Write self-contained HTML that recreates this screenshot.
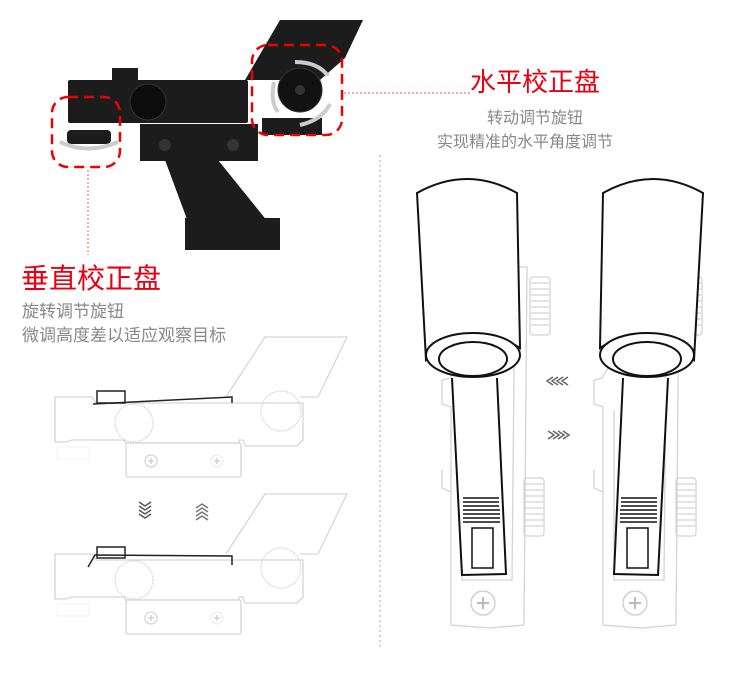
<!DOCTYPE html>
<html><head><meta charset="utf-8"><style>
body{margin:0;background:#fff;width:750px;height:678px;overflow:hidden;position:relative;font-family:"Liberation Sans","Noto Sans CJK SC",sans-serif}
.t{position:absolute;white-space:nowrap}
</style></head><body>
<svg width="750" height="678" style="position:absolute;left:0;top:0">
<defs>
<g id="sk" fill="none" stroke="#d6d6d6" stroke-width="1.3">
<path d="M55 397 L92 397 L96 403 L232 403 L303 403 L303 440 L297 446 L245 446 L243 440 L239 440 L239 443 L126 443 L124 440 L72 440 L66 442 L55 442 Z"/>
<rect x="126" y="443" width="115" height="34" rx="2"/>
<circle cx="134" cy="423" r="19" stroke-dasharray="1.5 1"/>
<circle cx="281" cy="411" r="20" stroke-dasharray="1.5 1"/>
<path d="M226 397 L265 337 L347 337 L318 397 L300 397"/>
<circle cx="151" cy="461" r="6"/><circle cx="217" cy="461" r="6" stroke="#eee"/>
<path d="M148 461h6M151 458v6M214 461h6M217 458v6" stroke="#ccc"/>
<rect x="57" y="447" width="32" height="12" stroke="#eee" stroke-dasharray="1 1"/>
</g>
<g id="br" fill="none" stroke="#d4d4d4" stroke-width="1.3">
<path d="M518 267 L527 267 L524 625 L490 628 L451 625 L451 407 L442 404 L442 380 L450 378 Z"/>
<path d="M462 410 L462 580 L512 580 L515 267"/>
<rect x="530" y="277" width="20" height="58" rx="3"/><path d="M531 283h18M531 289h18M531 295h18M531 301h18M531 307h18M531 313h18M531 319h18M531 325h18"/>
<rect x="524" y="478" width="20" height="58" rx="3"/><path d="M525 484h18M525 490h18M525 496h18M525 502h18M525 508h18M525 514h18M525 520h18M525 526h18"/>
<path d="M442 470 L442 488 L451 492"/>
<circle cx="483" cy="603" r="12" stroke="#ccc"/><path d="M477 603h12M483 597v12" stroke="#bbb" stroke-width="2"/>
</g>
<g id="fd">
<path d="M417 193 Q467 165 517 193 L520 348 Q473 318 426 360 Z" fill="#fff" stroke="#111" stroke-width="2"/>
<ellipse cx="473" cy="355" rx="47" ry="22" fill="#fff" stroke="#111" stroke-width="2"/>
<ellipse cx="473" cy="359" rx="34" ry="17" fill="#fff" stroke="#111" stroke-width="2"/>
<path d="M452 378 L462 575 L506 574 L497 378" fill="#fff" stroke="#111" stroke-width="2"/>
<g stroke="#111" stroke-width="1.6"><path d="M463 498h36M463 502h36M463 506h36M463 510h37M463 514h37M463 518h37M463 522h37"/></g>
<rect x="472" y="528" width="21" height="40" fill="none" stroke="#111" stroke-width="1.5"/>
</g>
</defs>
<g fill="#1c1c1c">
<polygon points="245,80 280,20 363,20 345,58 320,80"/>
<rect x="112" y="68" width="26" height="14"/>
<rect x="68" y="80" width="180" height="43" rx="2"/>
<rect x="140" y="124" width="118" height="37"/>
<polygon points="165,160 218,160 268,222 188,222"/>
<rect x="185" y="218" width="95" height="32"/>
<rect x="262" y="118" width="60" height="17"/>
<rect x="67" y="130" width="44" height="14" rx="4"/>
</g>
<circle cx="148" cy="102" r="18" fill="#0c0c0c" stroke="#333"/>
<circle cx="300" cy="90" r="22" fill="#111" stroke="#333"/>
<circle cx="300" cy="90" r="5" fill="#333"/>
<circle cx="165" cy="145" r="6" fill="#333"/><circle cx="233" cy="145" r="6" fill="#333"/>
<g fill="none" stroke="#ccc" stroke-width="4">
<path d="M60 142 Q88 155 118 142"/>
<path d="M295 62 Q318 62 328 76"/><path d="M274 82 Q270 102 278 112"/><path d="M300 125 Q322 120 330 104"/>
</g>
<g fill="none" stroke="#e00" stroke-width="2.5" stroke-dasharray="10 6">
<rect x="52" y="97" width="68" height="70" rx="16"/>
<rect x="252" y="45" width="90" height="90" rx="16"/>
</g>
<g stroke="#e55" stroke-width="1" stroke-dasharray="2 2">
<path d="M88 170 V255"/><path d="M344 93 H470"/>
</g>
<path d="M380 155 V650" stroke="#aaa" stroke-width="1" stroke-dasharray="2 3"/>
<use href="#sk"/>
<use href="#sk" transform="translate(0,157)"/>
<g fill="none" stroke-width="1.5">
<path d="M93 404 L232 397 L232 403" stroke="#222"/><rect x="97" y="391" width="28" height="12" stroke="#222"/>
<path d="M88 567 L95 555 L232 556 L232 565" stroke="#222"/><rect x="97" y="547" width="28" height="11" stroke="#222"/>
<path d="M139 502l6 4 6-4M139 506l6 4 6-4M139 510l6 4 6-4M139 514l6 4 6-4" stroke="#555"/>
<path d="M196 508l6-4 6 4M196 512l6-4 6 4M196 516l6-4 6 4M196 520l6-4 6 4" stroke="#777"/>
<path d="M553 377l-6 4 6 4M558 377l-6 4 6 4M563 377l-6 4 6 4M568 377l-6 4 6 4" stroke="#666"/>
<path d="M548 431l6 4-6 4M553 431l6 4-6 4M558 431l6 4-6 4M563 431l6 4-6 4" stroke="#666"/>
</g>
<use href="#br"/>
<use href="#br" transform="translate(152,0)"/>
<use href="#fd"/>
<use href="#fd" transform="translate(1120,0) scale(-1,1)"/>
</svg>
<div class="t" style="left:470px;top:62px;font-size:26px;color:#e60012">水平校正盘</div>
<div class="t" style="left:487px;top:104px;font-size:16px;color:#888">转动调节旋钮</div>
<div class="t" style="left:437px;top:128px;font-size:16px;color:#888">实现精准的水平角度调节</div>
<div class="t" style="left:21px;top:257px;font-size:28px;color:#e60012">垂直校正盘</div>
<div class="t" style="left:22px;top:297px;font-size:17px;color:#888">旋转调节旋钮</div>
<div class="t" style="left:22px;top:321px;font-size:17px;color:#888">微调高度差以适应观察目标</div>
</body></html>
